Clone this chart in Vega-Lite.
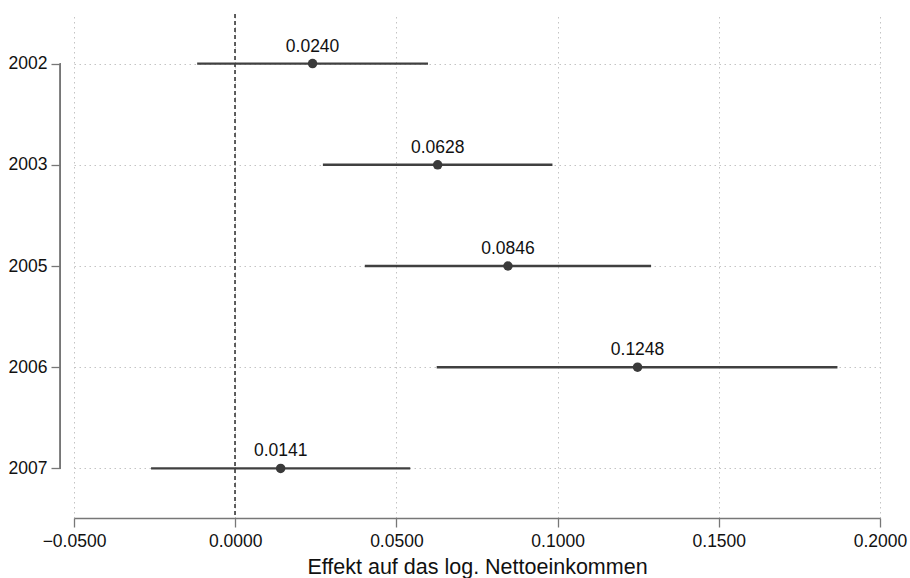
{
  "$schema": "https://vega.github.io/schema/vega-lite/v6.json",
  "width": 806,
  "height": 504,
  "autosize": "none",
  "padding": {"left": 74, "top": 14, "right": 30, "bottom": 60},
  "background": "white",
  "config": {"view": {"stroke": null}, "font": "Liberation Sans"},
  "data": {
    "values": [
      {"year": "2002", "est": 0.0240, "lo": -0.0118, "hi": 0.0598},
      {"year": "2003", "est": 0.0628, "lo": 0.0272, "hi": 0.0984},
      {"year": "2005", "est": 0.0846, "lo": 0.0402, "hi": 0.1290},
      {"year": "2006", "est": 0.1248, "lo": 0.0625, "hi": 0.1868},
      {"year": "2007", "est": 0.0141, "lo": -0.0261, "hi": 0.0543}
    ]
  },
  "encoding": {
    "y": {
      "field": "year",
      "type": "ordinal",
      "scale": {"type": "point", "padding": 0.49},
      "axis": {
        "title": null,
        "orient": "left",
        "offset": 14,
        "domain": false,
        "ticks": true,
        "tickSize": 9,
        "tickColor": "#777",
        "tickWidth": 1.3,
        "labelFontSize": 17.5,
        "labelColor": "#111",
        "labelPadding": 4,
        "grid": true,
        "gridColor": "#c4c4c4",
        "gridDash": [1.5, 3.5],
        "gridWidth": 1
      }
    }
  },
  "layer": [
    {
      "mark": {"type": "rule", "color": "#5a5a5a", "strokeDash": [4, 3], "strokeWidth": 1.3},
      "encoding": {"x": {"datum": 0, "type": "quantitative"}, "y": null}
    },
    {
      "mark": {"type": "rule", "color": "#777", "strokeWidth": 1.3},
      "encoding": {
        "x": {"datum": -0.05425, "type": "quantitative"},
        "y": {"datum": "2002", "type": "ordinal"},
        "y2": {"datum": "2007"}
      }
    },
    {
      "mark": {"type": "rule", "color": "#404040", "strokeWidth": 2.4},
      "encoding": {
        "x": {
          "field": "lo",
          "type": "quantitative",
          "scale": {"domain": [-0.05, 0.2], "nice": false, "zero": false},
          "axis": {
            "values": [-0.05, 0, 0.05, 0.1, 0.15, 0.2],
            "format": ".4f",
            "title": "Effekt auf das log. Nettoeinkommen",
            "titleFontSize": 21.5,
            "titleFontWeight": "normal",
            "titleColor": "#111",
            "titleBaseline": "alphabetic",
            "titleY": 55,
            "domainColor": "#777",
            "domainWidth": 1.3,
            "tickColor": "#777",
            "tickWidth": 1.3,
            "tickSize": 9,
            "labelFontSize": 17.5,
            "labelColor": "#111",
            "labelPadding": 5,
            "labelFlush": false,
            "labelOverlap": false,
            "labelBound": false,
            "grid": true,
            "gridColor": "#c4c4c4",
            "gridDash": [1.5, 3.5],
            "gridWidth": 1
          }
        },
        "x2": {"field": "hi"}
      }
    },
    {
      "mark": {"type": "circle", "color": "#3a3a3a", "opacity": 1, "size": 90},
      "encoding": {"x": {"field": "est", "type": "quantitative"}}
    },
    {
      "mark": {"type": "text", "dy": -12, "baseline": "alphabetic", "align": "center", "fontSize": 17.5, "color": "#111"},
      "encoding": {
        "x": {"field": "est", "type": "quantitative"},
        "text": {"field": "est", "type": "quantitative", "format": ".4f"}
      }
    }
  ]
}
